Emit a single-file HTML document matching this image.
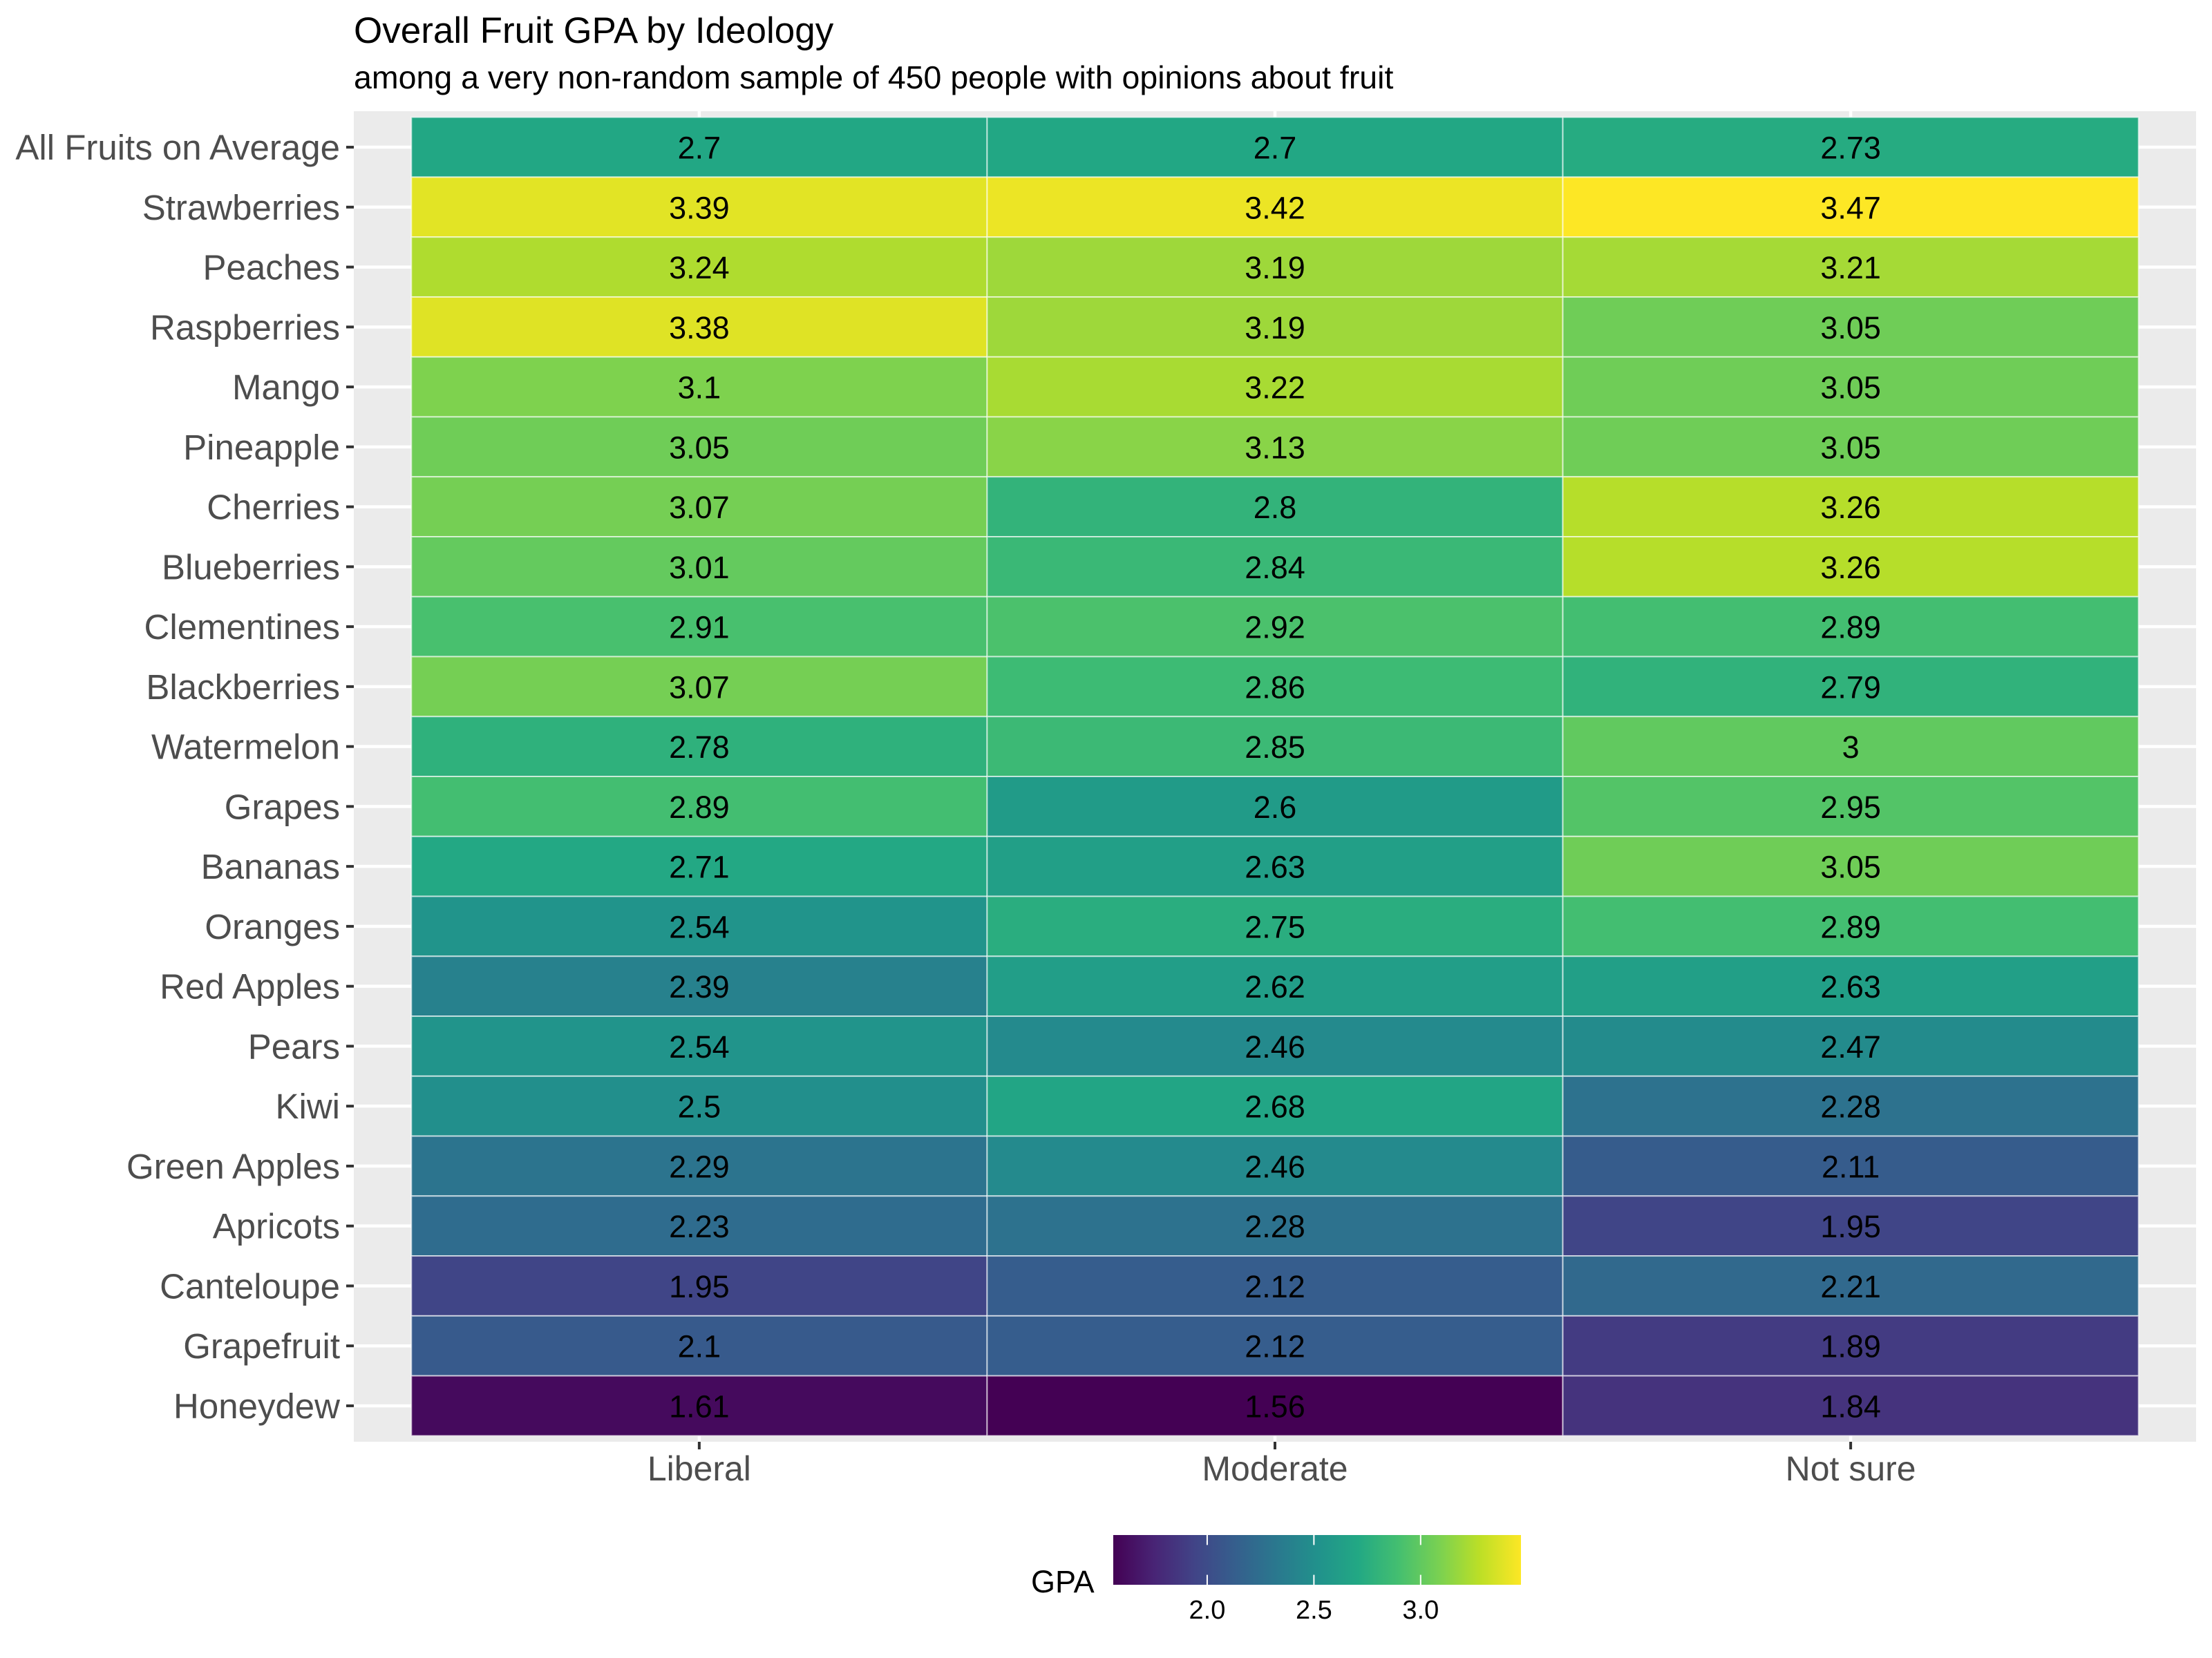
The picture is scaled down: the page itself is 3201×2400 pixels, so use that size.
<!DOCTYPE html>
<html><head><meta charset="utf-8"><style>
html,body{margin:0;padding:0;background:#fff;}
svg{display:block;font-family:"Liberation Sans",Arial,sans-serif;}
</style></head><body>
<svg id="chart" width="3201" height="2400" viewBox="0 0 3201 2400" xmlns="http://www.w3.org/2000/svg">
<rect x="0" y="0" width="3201" height="2400" fill="#fff"/>
<text x="512" y="62" font-size="53" fill="#000">Overall Fruit GPA by Ideology</text>
<text x="512" y="128" font-size="46.5" fill="#000">among a very non-random sample of 450 people with opinions about fruit</text>
<rect x="512" y="161" width="2666" height="1926" fill="#EBEBEB"/>
<g id="grid"></g><g id="tiles"></g><g id="labels"></g><g id="axes"></g>
<defs><linearGradient id="vir" x1="0" x2="1" y1="0" y2="0"></linearGradient></defs>
<g id="legend"></g>
</svg>
<script>
const fruits = ["All Fruits on Average","Strawberries","Peaches","Raspberries","Mango","Pineapple","Cherries","Blueberries","Clementines","Blackberries","Watermelon","Grapes","Bananas","Oranges","Red Apples","Pears","Kiwi","Green Apples","Apricots","Canteloupe","Grapefruit","Honeydew"];
const ideologies = ["Liberal","Moderate","Not sure"];
const liberal  = [2.7,3.39,3.24,3.38,3.1,3.05,3.07,3.01,2.91,3.07,2.78,2.89,2.71,2.54,2.39,2.54,2.5,2.29,2.23,1.95,2.1,1.61];
const moderate = [2.7,3.42,3.19,3.19,3.22,3.13,2.8,2.84,2.92,2.86,2.85,2.6,2.63,2.75,2.62,2.46,2.68,2.46,2.28,2.12,2.12,1.56];
const notSure  = [2.73,3.47,3.21,3.05,3.05,3.05,3.26,3.26,2.89,2.79,3,2.95,3.05,2.89,2.63,2.47,2.28,2.11,1.95,2.21,1.89,1.84];
const legendTicks = [2.0,2.5,3.0];
const legendTickLabels = ["2.0","2.5","3.0"];

const NS="http://www.w3.org/2000/svg";
const series=[liberal,moderate,notSure];
const all=series.flat();
const vmin=Math.min(...all), vmax=Math.max(...all);
const VIR=["#440154","#482475","#414487","#355f8d","#2a788e","#21918c","#22a884","#44bf70","#7ad151","#bddf26","#fde725"];
function hex(c){return [1,3,5].map(i=>parseInt(c.substr(i,2),16));}
function viridis(t){t=Math.max(0,Math.min(1,t));const p=t*(VIR.length-1);const i=Math.min(Math.floor(p),VIR.length-2);const f=p-i;const a=hex(VIR[i]),b=hex(VIR[i+1]);return "rgb("+a.map((v,k)=>Math.round(v+(b[k]-v)*f)).join(",")+")";}
function color(v){return viridis((v-vmin)/(vmax-vmin));}
const panelX=512,panelW=2666,panelY=161,panelH=1926;
const xUnit=panelW/(ideologies.length+0.2), yUnit=panelH/(fruits.length+0.2);
function xc(i){return panelX+xUnit*(0.6+i);}
function yc(j){return panelY+yUnit*(0.6+j);}
function mk(tag,attrs,parent){const e=document.createElementNS(NS,tag);for(const k in attrs)e.setAttribute(k,attrs[k]);parent.appendChild(e);return e;}
const grid=document.getElementById('grid'),tiles=document.getElementById('tiles'),labels=document.getElementById('labels'),axes=document.getElementById('axes');
fruits.forEach((f,j)=>{const l=mk('line',{x1:panelX,x2:panelX+panelW,y1:yc(j),y2:yc(j),stroke:'#fff','stroke-width':4.5},grid);

});
ideologies.forEach((d,i)=>{const l=mk('line',{y1:panelY,y2:panelY+panelH,x1:xc(i),x2:xc(i),stroke:'#fff','stroke-width':4.5},grid);

});
series.forEach((s,i)=>{s.forEach((v,j)=>{
 const r=mk('rect',{x:xc(i)-xUnit/2,y:yc(j)-yUnit/2,width:xUnit,height:yUnit,fill:color(v),stroke:'rgba(255,255,255,0.6)','stroke-width':2},tiles);
 
 
 const t=mk('text',{x:xc(i),y:yc(j)+16.5,'text-anchor':'middle','font-size':45,fill:'#000'},labels);
 t.textContent=String(v);
 
 
});});
fruits.forEach((f,j)=>{
 const tk=mk('line',{x1:panelX-11,x2:panelX,y1:yc(j),y2:yc(j),stroke:'#333','stroke-width':4},axes);
 
 
 const t=mk('text',{x:panelX-20,y:yc(j)+18,'text-anchor':'end','font-size':51,fill:'#4D4D4D'},axes);
 t.textContent=f;
 
 
});
ideologies.forEach((d,i)=>{
 const tk=mk('line',{x1:xc(i),x2:xc(i),y1:panelY+panelH,y2:panelY+panelH+11,stroke:'#333','stroke-width':4},axes);
 
 
 const t=mk('text',{x:xc(i),y:2143,'text-anchor':'middle','font-size':50,fill:'#4D4D4D'},axes);
 t.textContent=d;
 
 
});
const lg=document.getElementById('legend');
const barX=1611,barW=590,barY=2222,barH=72;
const grad=document.getElementById('vir');
VIR.forEach((c,k)=>mk('stop',{offset:(k/(VIR.length-1)*100)+'%','stop-color':c},grad));
function lx(v){return barX+(v-vmin)/(vmax-vmin)*barW;}
const bar=mk('rect',{x:barX,y:barY,width:barW,height:barH,fill:'url(#vir)'},lg);


const gt=mk('text',{x:1492,y:2305,'font-size':45,fill:'#000'},lg);gt.textContent='GPA';


legendTicks.forEach((v,k)=>{
 const x=lx(v);
 mk('line',{x1:x,x2:x,y1:barY,y2:barY+barH/5,stroke:'#fff','stroke-width':2},lg);
 mk('line',{x1:x,x2:x,y1:barY+barH*4/5,y2:barY+barH,stroke:'#fff','stroke-width':2},lg);
 const t=mk('text',{x:x,y:2343,'text-anchor':'middle','font-size':38,fill:'#000'},lg);
 t.textContent=legendTickLabels[k];
 
 
});
</script>
</body></html>
